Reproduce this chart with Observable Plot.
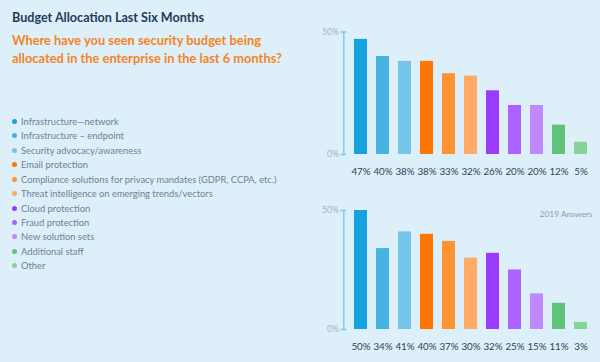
<!DOCTYPE html>
<html>
<head>
<meta charset="utf-8">
<script src="https://cdn.jsdelivr.net/npm/d3@7"></script>
<script src="https://cdn.jsdelivr.net/npm/@observablehq/plot@0.6"></script>
<style>
  html, body { margin: 0; padding: 0; }
  body { width: 600px; height: 362px; overflow: hidden; background: #ddeff9; font-family: Lato, "Open Sans", sans-serif; }
  #wrap { position: relative; width: 600px; height: 362px; background: #ddeff9; }
  #title { position: absolute; left: 12px; top: 18px; font-size: 12.5px; font-weight: 700; color: #1f3a5c; white-space: nowrap; line-height: 1; transform: translateY(-50%); }
  #subtitle { position: absolute; left: 12px; top: 31px; font-size: 12.8px; font-weight: 700; color: #f7841f; line-height: 18px; white-space: nowrap; }
  #legend { position: absolute; left: 10px; top: 114px; }
  .item { height: 14.47px; display: flex; align-items: center; font-size: 10px; color: #6e8197; white-space: nowrap; }
  .dot { width: 5px; height: 5px; border-radius: 50%; margin-right: 4px; margin-left: 2px; flex: none; }
  .chart { position: absolute; left: 300px; }
  #top { top: 20px; }
  #bottom { top: 195px; }
  #measure { position: absolute; visibility: hidden; white-space: nowrap; font-family: Lato, "Open Sans", sans-serif; font-size: 10px; }
</style>
</head>
<body>
<div id="wrap">
  <div id="title">Budget Allocation Last Six Months</div>
  <div id="subtitle"><span id="sub1">Where have you seen security budget being</span><br><span>allocated in the enterprise in the last 6 months?</span></div>
  <div id="legend"></div>
  <div id="top" class="chart"></div>
  <div id="bottom" class="chart"></div>
  <span id="measure"></span>
</div>
<script>
const categories = [
  "Infrastructure\u2014network",
  "Infrastructure \u2013 endpoint",
  "Security advocacy/awareness",
  "Email protection",
  "Compliance solutions for privacy mandates (GDPR, CCPA, etc.)",
  "Threat intelligence on emerging trends/vectors",
  "Cloud protection",
  "Fraud protection",
  "New solution sets",
  "Additional staff",
  "Other"
];
const values2020 = [47, 40, 38, 38, 33, 32, 26, 20, 20, 12, 5];
const values2019 = [50, 34, 41, 40, 37, 30, 32, 25, 15, 11, 3];
const colors = ["#16a2dc", "#45b4e4", "#73c6ea", "#ff7700", "#ff9333", "#ffab66", "#9b3bff", "#ad62ff", "#c189ff", "#5fc47a", "#86d498"];
const yTicks = [0, 50];
const bottomLabel = "2019 Answers";

const legend = document.getElementById("legend");
const legendSpans = [];
categories.forEach((c, i) => {
  const row = document.createElement("div");
  row.className = "item";
  const d = document.createElement("span");
  d.className = "dot";
  d.style.background = colors[i];
  row.appendChild(d);
  const t = document.createElement("span");
  t.textContent = c;
  row.appendChild(t);
  legendSpans.push(t);
  legend.appendChild(row);
});

// size texts so their widths match the reference (layout only)
function fitAll() {
  const title = document.getElementById("title");
  title.style.fontSize = "12px";
  title.style.fontSize = (12 * 192 / title.getBoundingClientRect().width).toFixed(2) + "px";
  const sub = document.getElementById("subtitle");
  sub.style.fontSize = "14px";
  sub.style.fontSize = (14 * 249 / document.getElementById("sub1").getBoundingClientRect().width).toFixed(2) + "px";
  legendSpans.forEach(s => s.style.fontSize = "10px");
  const w = Math.max(...legendSpans.map(s => s.getBoundingClientRect().width));
  const fs = Math.min(11, 10 * 256 / w).toFixed(2);
  legendSpans.forEach(s => s.style.fontSize = fs + "px");
}
fitAll();
if (document.fonts && document.fonts.ready) document.fonts.ready.then(fitAll);

const meas = document.getElementById("measure");
function sizeFor(text, target) {
  meas.textContent = text;
  return 10 * target / meas.getBoundingClientRect().width;
}
const valueFont = sizeFor("47% 40%", 41);
const tickFont = sizeFor("50%", 16.7);
const noteFont = sizeFor(bottomLabel, 53);

const axisColor = "#7fcbea";

function chart(values, marginTop, label) {
  const data = categories.map((c, i) => ({cat: c, value: values[i]}));
  const marks = [
    Plot.barY(data, {x: "cat", y: "value", fill: "cat"}),
    Plot.frame({anchor: "left", stroke: axisColor, strokeWidth: 1.5}),
    Plot.axisY({ticks: yTicks, tickSize: 6, dx: 3, stroke: axisColor, strokeWidth: 1.5, tickFormat: () => "", label: null}),
    Plot.axisY({ticks: yTicks, tickSize: 0, tickPadding: 5, tickFormat: d => d + "%", fill: "#a3b2c2", fontSize: tickFont, label: null}),
    Plot.text(data, {x: "cat", y: 0, dy: 17, text: d => d.value + "%", fill: "#2e3f57", fontSize: valueFont})
  ];
  if (label) {
    marks.push(Plot.text([label], {text: d => d, frameAnchor: "top-right", dy: 1, dx: -6, fill: "#8d9cad", fontSize: noteFont}));
  }
  return Plot.plot({
    width: 300, height: 164, marginTop, marginBottom: 30, marginLeft: 43.3, marginRight: 2,
    style: {background: "transparent", fontFamily: "Lato, 'Open Sans', sans-serif", overflow: "visible"},
    x: {domain: categories, padding: 0.4, axis: null},
    y: {domain: [0, 50], axis: null},
    color: {domain: categories, range: colors},
    marks
  });
}

document.getElementById("top").appendChild(chart(values2020, 11.5, null));
document.getElementById("bottom").appendChild(chart(values2019, 15, bottomLabel));
</script>
</body>
</html>
